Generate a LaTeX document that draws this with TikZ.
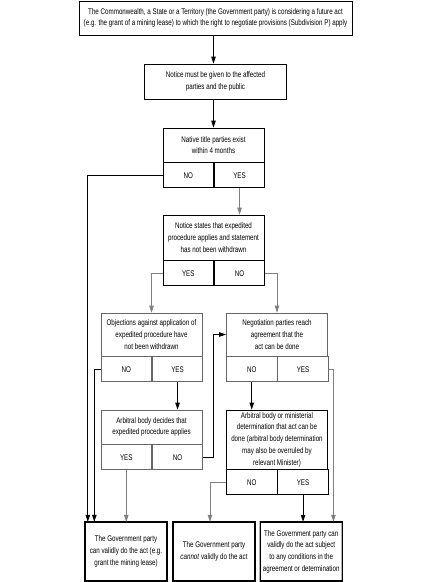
\documentclass[tikz,border=0pt]{standalone}
\usepackage{fontspec}
\setmainfont{Liberation Sans}[FakeStretch=0.76]
\usetikzlibrary{
    arrows.meta,
    positioning
}
\newcommand{\chartfont}{\fontsize{8.2}{11.7}\selectfont}
\colorlet{wiregray}{black!50}
\colorlet{edgegray}{black!60}
\tikzset{
    box/.style={draw, line width=0.8pt, align=center, inner sep=0pt, font=\chartfont},
    qbox/.style={box, minimum width=101pt},
    ans/.style={box, minimum width=50.5pt, minimum height=25pt},
    soft/.style={draw=edgegray},
    endbox/.style={box, minimum width=82pt, minimum height=59pt,
        draw=gray!60, line width=0.4pt, double=black, double distance=1.3pt},
    link/.style={line width=0.8pt, -{Triangle[length=7pt,width=4.5pt]}}
}

\begin{document}
\begin{tikzpicture}[x=1pt,y=-1pt]
    \useasboundingbox (0,0) rectangle (427,582);
    % top of the chart
    \node[box, minimum width=273pt, minimum height=34pt] (start) at (215.5,18)
        {The Commonwealth, a State or a Territory (the Government party) is considering a future act\\
         (e.g. the grant of a mining lease) to which the right to negotiate provisions (Subdivision P) apply};
    \node[box, minimum width=142pt, minimum height=35pt] (notice) at (215.5,81.5)
        {Notice must be given to the affected\\parties and the public};
    % questions with their answers
    \node[qbox, minimum height=34pt] (titleq) at (213.5,145) {Native title parties exist\\within 4 months};
    \node[ans, below right=0pt of titleq.south west] (titleno) {NO};
    \node[ans, right=0pt of titleno] (titleyes) {YES};

    \node[qbox, minimum height=45pt] (expq) at (213.5,237.5)
        {Notice states that expedited\\procedure applies and statement\\has not been withdrawn};
    \node[ans, below right=0pt of expq.south west] (expyes) {YES};
    \node[ans, right=0pt of expyes] (expno) {NO};

    \node[qbox, soft, minimum height=43pt] (objq) at (151.5,334.5)
        {Objections against application of\\expedited procedure have\\not been withdrawn};
    \node[ans, soft, below right=0pt of objq.south west] (objno) {NO};
    \node[ans, soft, right=0pt of objno] (objyes) {YES};

    \node[qbox, soft, minimum height=43pt] (negq) at (277,334.5)
        {Negotiation parties reach\\agreement that the\\act can be done};
    \node[ans, soft, below right=0pt of negq.south west] (negno) {NO};
    \node[ans, soft, right=0pt of negno] (negyes) {YES};

    \node[qbox, soft, minimum height=34pt] (arbq) at (151.5,427)
        {Arbitral body decides that\\expedited procedure applies};
    \node[ans, soft, below right=0pt of arbq.south west] (arbyes) {YES};
    \node[ans, soft, right=0pt of arbyes] (arbno) {NO};

    \node[qbox, minimum height=59pt] (minq) at (277,439.5)
        {Arbitral body or ministerial\\determination that act can be\\done (arbitral body determination\\may also be overruled by\\relevant Minister)};
    \node[ans, below right=0pt of minq.south west] (minno) {NO};
    \node[ans, right=0pt of minno] (minyes) {YES};
    % outcomes
    \node[endbox] (endA) at (126,551.5) {The Government party\\can validly do the act (e.g.\\grant the mining lease)};
    \node[endbox] (endB) at (214,551.5) {The Government party\\\textit{cannot} validly do the act};
    \node[endbox] (endC) at (301.25,551.5) {The Government party can\\validly do the act subject\\to any conditions in the\\agreement or determination};

    \draw[link] (start.south -| titleq.north) -- (notice.north -| titleq.north);
    \draw[link] (notice.south -| titleq.north) -- (titleq.north);
    \draw[link] (titleno.west) -| ([xshift=3pt]endA.north west);
    \draw[link, wiregray] (titleyes.south) -- (titleyes.south |- expq.north);
    \draw[link, wiregray] (expyes.west) -| (objq.north);
    \draw[link, wiregray] (expno.east) -| (negq.north);
    \draw[link] (objno.west) -| ([xshift=9.5pt]endA.north west);
    \draw[link] (objyes.south) -- (objyes.south |- arbq.north);
    \draw[link] (arbno.east) -- ++(10,0) |- (negq.west);
    \draw[link, wiregray] (arbyes.south) -- (arbyes.south |- endA.north);
    \draw[link] (negno.south) -- (negno.south |- minq.north);
    \draw[link, wiregray] (negyes.east) -| ([xshift=-9pt]endC.north east);
    \draw[link, wiregray] (minno.west) -| ([xshift=-4pt]endB.north);
    \draw[link] (minyes.south) -- (minyes.south |- endC.north);
\end{tikzpicture}
\end{document}
